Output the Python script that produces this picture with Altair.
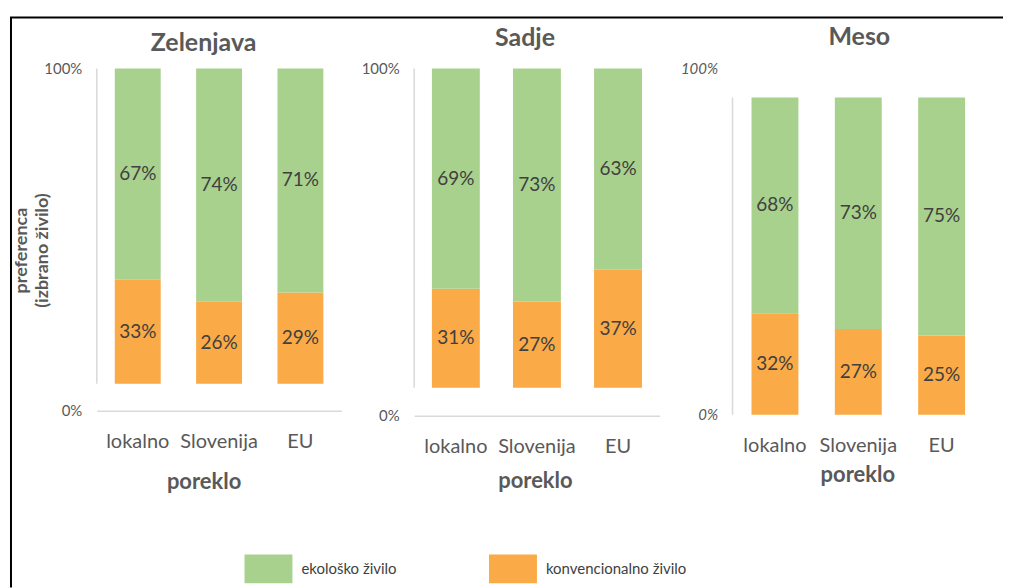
import altair as alt
import pandas as pd

FONT = "Lato"
GREY = "#595959"

categories = ["lokalno", "Slovenija", "EU"]
series = ["ekološko živilo", "konvencionalno živilo"]
titles = ["Zelenjava", "Sadje", "Meso"]
zelenjava_eko = [67, 74, 71]
zelenjava_konv = [33, 26, 29]
sadje_eko = [69, 73, 63]
sadje_konv = [31, 27, 37]
meso_eko = [68, 73, 75]
meso_konv = [32, 27, 25]
colors = ["#A9D18E", "#FAAA46"]
y_title = ["preferenca", "(izbrano živilo)"]
x_title = "poreklo"


def table(eko, konv):
    rows = []
    for c, e, k in zip(categories, eko, konv):
        tot = e + k
        rows.append({"kat": c, "serija": series[1], "y0": 0.0, "y1": k / tot,
                     "mid": k / tot / 2, "lab": f"{k}%"})
        rows.append({"kat": c, "serija": series[0], "y0": k / tot, "y1": 1.0,
                     "mid": (k / tot + 1) / 2, "lab": f"{e}%"})
    return pd.DataFrame(rows)


legend = alt.Legend(
    title=None, orient="none", direction="horizontal",
    legendX=148, legendY=477,
    symbolType="M-1,-0.6L1,-0.6L1,0.6L-1,0.6Z", symbolSize=2304,
    symbolStrokeWidth=0, symbolOpacity=1,
    labelFontSize=15, labelFont=FONT, labelColor="#404040",
    labelOffset=9, columnPadding=92, padding=0,
)
color_enc = alt.Color("serija:N", scale=alt.Scale(domain=series, range=colors), legend=legend)


def deco_rule(x1, y1, x2=None, y2=None):
    enc = {"x": alt.value(x1), "y": alt.value(y1)}
    if x2 is not None:
        enc["x2"] = alt.value(x2)
    if y2 is not None:
        enc["y2"] = alt.value(y2)
    return alt.Chart(alt.Data(values=[{"k": 1}])).mark_rule(
        color="black", strokeWidth=2
    ).encode(**enc)


def panel(idx, eko, konv, W, H, ydom, italic, xline, barsize, po, tpos, xtpos, frames, ytitle):
    df = table(eko, konv)
    xs = alt.Scale(paddingInner=0, paddingOuter=po)
    xaxis = alt.Axis(
        title=x_title, labelAngle=0, labelFontSize=20, labelColor=GREY, labelFont=FONT,
        labelPadding=31, labelBaseline="middle", ticks=False, tickSize=0,
        domain=xline, domainColor="#D9D9D9", domainWidth=1.5, grid=False,
        titleFontSize=22, titleFontWeight="bold", titleColor=GREY, titleFont=FONT,
        titleX=xtpos[0], titleY=xtpos[1], titleBaseline="middle", titleAlign="center",
    )
    yaxis_args = dict(
        values=ydom, labelExpr="datum.value < 0.5 ? '0%' : '100%'",
        labelFontSize=15, labelColor=GREY, labelFont=FONT, labelPadding=15,
        labelFontStyle="italic" if italic else "normal",
        domain=False, ticks=False, grid=False,
    )
    if ytitle:
        yaxis_args.update(
            title=y_title, titleAngle=270, titleFontSize=18, titleFontWeight="bold",
            titleColor=GREY, titleFont=FONT, titleX=-66, titleY=182,
            titleAlign="center", titleBaseline="bottom", titleLineHeight=21,
        )
    else:
        yaxis_args.update(title=None)
    ys = alt.Scale(domain=ydom, nice=False, zero=False)

    bars = alt.Chart(df).mark_bar(size=barsize).encode(
        x=alt.X("kat:N", sort=categories, scale=xs, axis=xaxis),
        y=alt.Y("y0:Q", scale=ys, axis=alt.Axis(**yaxis_args)),
        y2="y1:Q",
        color=color_enc,
    )
    labels = alt.Chart(df).mark_text(fontSize=19, color="#404040", font=FONT).encode(
        x=alt.X("kat:N", sort=categories),
        y=alt.Y("mid:Q"),
        text="lab:N",
    )
    vline = alt.Chart(alt.Data(values=[{"a": 0, "b": 1}])).mark_rule(
        color="#D9D9D9", strokeWidth=1.5
    ).encode(x=alt.value(0), y="a:Q", y2="b:Q")
    title = alt.Chart(alt.Data(values=[{"t": titles[idx]}])).mark_text(
        fontSize=25, fontWeight="bold", color=GREY, font=FONT, align="center", baseline="middle"
    ).encode(x=alt.value(tpos[0]), y=alt.value(tpos[1]), text="t:N")
    layers = [vline, bars, labels, title] + frames
    return alt.layer(*layers).properties(width=W, height=H)


# page frame drawn once, relative to the first panel (origin at page x=96, y=68)
frame = [deco_rule(-86, -51, y2=520), deco_rule(-87, -51, x2=908)]

p1 = panel(0, zelenjava_eko, zelenjava_konv, 245, 343, [-0.0854, 1.0], False, True, 46, 0.003,
           (107, -25), (107, 71), frame, True)
p2 = panel(1, sadje_eko, sadje_konv, 246, 348, [-0.0875, 1.0], False, True, 48, 0.014,
           (111, -31), (121, 65), [], False)
p3 = panel(2, meso_eko, meso_konv, 252, 347, [0.0, 1.0912], True, False, 47, 0.009,
           (127, -32), (125, 60), [], False)

chart = alt.hconcat(p1, p2, p3, spacing=73, bounds="flush").resolve_scale(
    y="independent", x="independent"
).properties(
    padding={"left": 1, "top": 8, "right": 0, "bottom": 0}
).configure(font=FONT).configure_view(strokeWidth=0)

chart.save("out.html", embed_options={"renderer": "svg", "actions": False})
